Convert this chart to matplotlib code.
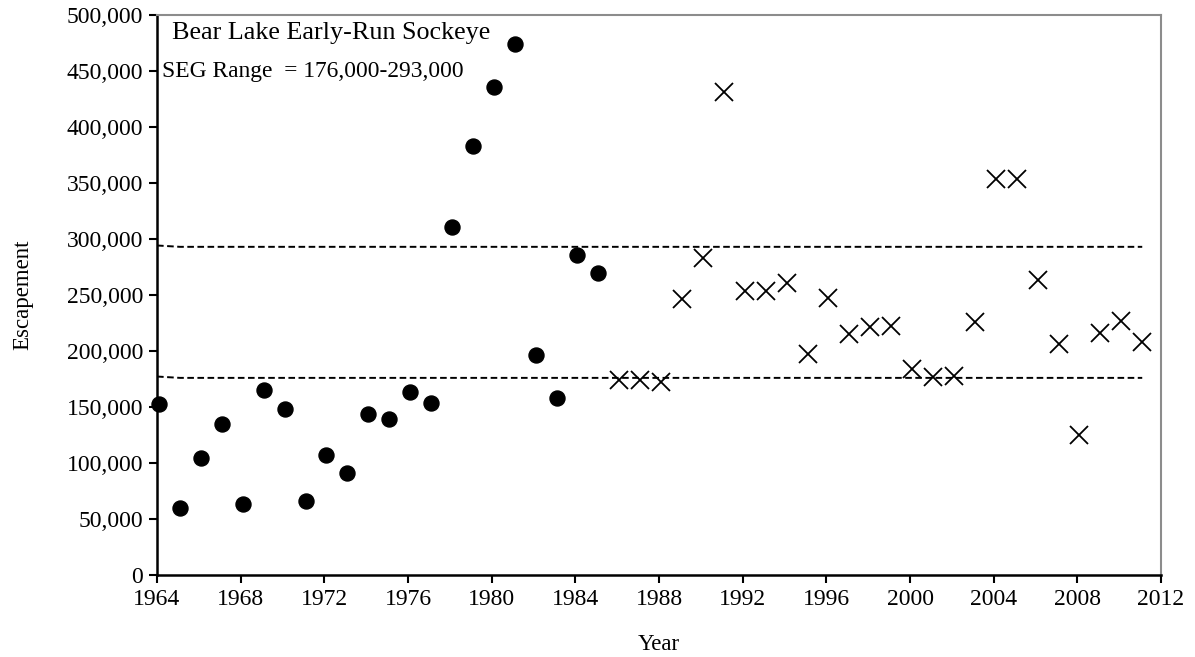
import matplotlib
matplotlib.use("Agg")
import matplotlib.pyplot as plt
from matplotlib.ticker import FuncFormatter, MultipleLocator

plt.rcParams['font.family'] = ['Liberation Serif', 'DejaVu Serif']

# Weir-count era (filled circles)
years_a = [1964, 1965, 1966, 1967, 1968, 1969, 1970, 1971, 1972, 1973, 1974,
           1975, 1976, 1977, 1978, 1979, 1980, 1981, 1982, 1983, 1984, 1985]
esc_a = [153000, 60000, 104500, 135000, 63000, 165000, 148000, 66000, 107000,
         91000, 144000, 139000, 163000, 154000, 311000, 383000, 436000, 474000,
         196000, 158000, 286000, 270000]

# Later era (crosses)
years_b = [1986, 1987, 1988, 1989, 1990, 1991, 1992, 1993, 1994, 1995, 1996,
           1997, 1998, 1999, 2000, 2001, 2002, 2003, 2004, 2005, 2006, 2007,
           2008, 2009, 2010, 2011]
esc_b = [174000, 174000, 172000, 246000, 283000, 431000, 254000, 254000, 261000,
         197000, 247000, 215000, 221000, 222000, 184000, 177000, 178000, 226000,
         354000, 354000, 263000, 206000, 125000, 216000, 227000, 208000]

# SEG bounds by year
goal_years = list(range(1964, 2012))
seg_low = [177200] + [176000] * (len(goal_years) - 1)
seg_high = [294200] + [293000] * (len(goal_years) - 1)

x_offset = 0.1
goal_x = [goal_years[0]] + [y + x_offset for y in goal_years[1:]]

fig = plt.figure(figsize=(11.95, 6.57), dpi=100)
ax = fig.add_axes([0.1314, 0.1248, 0.8402, 0.8524])

ax.plot(goal_x, seg_high, ls=(0, (3.4, 1.8)), color='black', lw=1.4)
ax.plot(goal_x, seg_low, ls=(0, (3.4, 1.8)), color='black', lw=1.4)

ax.plot([y + x_offset for y in years_a], esc_a, 'o', color='black',
        markersize=10.8, clip_on=False, zorder=3)
ax.plot([y + x_offset for y in years_b], esc_b, 'x', color='black',
        markersize=13, mew=1.3, clip_on=False, zorder=3)

ax.set_xlim(1964, 2012)
ax.set_ylim(0, 500000)
ax.xaxis.set_major_locator(MultipleLocator(4))
ax.yaxis.set_major_locator(MultipleLocator(50000))
ax.yaxis.set_major_formatter(FuncFormatter(lambda v, p: f"{int(v):,}"))

for s in ['left', 'bottom']:
    ax.spines[s].set_linewidth(1.8)
    ax.spines[s].set_color('black')
for s in ['top', 'right']:
    ax.spines[s].set_linewidth(1.5)
    ax.spines[s].set_color('#8c8c8c')

ax.tick_params(axis='both', direction='out', length=6, width=1.5,
               labelsize=17, colors='black')
ax.tick_params(axis='y', pad=4)
ax.tick_params(axis='x', pad=4)

ax.set_xlabel('Year', fontsize=16.5, labelpad=17)
ax.set_ylabel('Escapement', fontsize=16.5, labelpad=24)

ax.text(0.015, 0.988, 'Bear Lake Early-Run Sockeye', transform=ax.transAxes,
        fontsize=18.8, ha='left', va='top')
ax.text(0.005, 0.917, 'SEG Range  = 176,000-293,000', transform=ax.transAxes,
        fontsize=16.9, ha='left', va='top')

fig.savefig('out.png', dpi=100)
